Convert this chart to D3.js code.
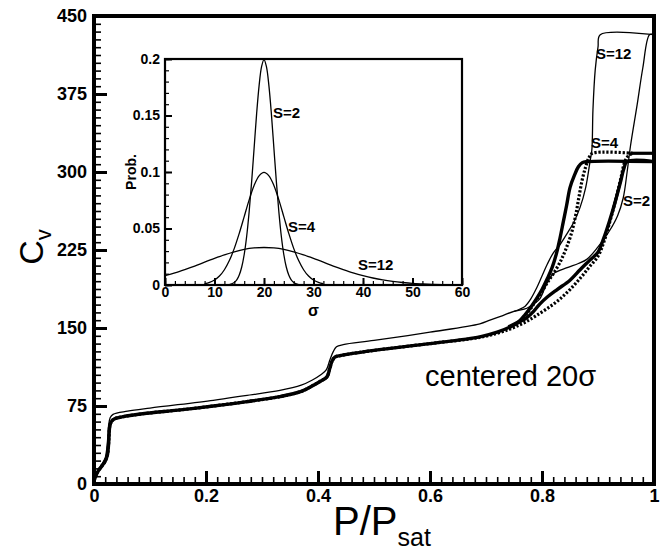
<!DOCTYPE html>
<html><head><meta charset="utf-8">
<script src="https://cdn.jsdelivr.net/npm/d3@7"></script>
<style>body{margin:0;background:#fff}svg{display:block}text{font-family:"Liberation Sans",Arial,Helvetica,sans-serif}</style>
</head><body>
<svg id="c" width="661" height="550"></svg>
<script>
// ---------- main chart ticks ----------
const xTicks = [0, 0.2, 0.4, 0.6, 0.8, 1];
const xTickLabels = ["0", "0.2", "0.4", "0.6", "0.8", "1"];
const yTicks = [0, 75, 150, 225, 300, 375, 450];

// ---------- main chart series: [P/Psat, Cv] ----------
const s2Adsorption = [[0,3],[0.007,12],[0.015,18],[0.02,22],[0.024,28],[0.026,38],[0.027,48],[0.028,55],[0.031,60],[0.036,62.5],[0.05,64.5],[0.094,68],[0.15,71],[0.213,75],[0.27,79],[0.332,84],[0.37,89],[0.392,95],[0.405,99],[0.416,103],[0.421,111],[0.425,118],[0.43,122],[0.44,123.5],[0.5,128.5],[0.6,135],[0.689,141.5],[0.72,146],[0.743,151],[0.76,156],[0.773,160],[0.785,166],[0.796,173],[0.81,180],[0.827,187],[0.85,196],[0.868,206],[0.885,215],[0.9,223],[0.91,236],[0.92,252],[0.93,270],[0.94,290],[0.946,303],[0.952,310],[1,310]];
const s2Desorption = [[1,310],[0.88,310],[0.872,309],[0.865,305],[0.858,297],[0.85,285],[0.844,268],[0.838,252],[0.832,236],[0.826,222],[0.818,208],[0.81,198],[0.8,187],[0.79,178],[0.78,170],[0.77,163],[0.76,157],[0.74,151]];
const s4Adsorption = [[0,3],[0.007,12],[0.015,18],[0.02,22],[0.024,28],[0.026,38],[0.027,48],[0.028,55],[0.031,60],[0.036,62.5],[0.05,64.5],[0.094,68],[0.15,71],[0.213,75],[0.27,79],[0.332,84],[0.37,89],[0.392,95],[0.405,99],[0.416,103],[0.421,111],[0.425,118],[0.43,122],[0.44,123.5],[0.5,128.5],[0.6,135],[0.689,141],[0.72,145],[0.743,149],[0.76,153],[0.775,157],[0.79,162],[0.81,169],[0.83,177],[0.85,187],[0.87,199],[0.885,209],[0.9,219],[0.91,232],[0.92,250],[0.93,270],[0.94,292],[0.948,310],[0.955,316],[0.962,318]];
const s4Desorption = [[0.962,318],[0.89,318],[0.884,314],[0.878,305],[0.872,293],[0.866,276],[0.86,258],[0.852,240],[0.842,225],[0.832,213],[0.82,202],[0.81,194],[0.8,185],[0.79,177],[0.78,169],[0.77,162],[0.76,156],[0.74,150]];
const s4Plateau = [[0.958,318],[1,318]];
const s12Adsorption = [[0,3],[0.007,13],[0.015,20],[0.02,25],[0.023,35],[0.025,48],[0.026,56],[0.029,64],[0.034,67],[0.06,70],[0.1,73],[0.213,80.5],[0.27,85],[0.332,90],[0.37,95],[0.39,100],[0.405,105],[0.415,110],[0.421,119],[0.427,127],[0.433,132],[0.445,134],[0.5,138],[0.6,146],[0.689,154],[0.707,157.5],[0.73,162],[0.75,166],[0.773,169],[0.785,173],[0.796,178],[0.808,192],[0.82,202],[0.845,208],[0.865,212],[0.88,216],[0.9,228],[0.92,243],[0.935,258],[0.945,275],[0.952,300],[0.958,325],[0.97,365],[0.98,400],[0.992,432],[1,432]];
const s12Desorption = [[1,432],[0.904,432],[0.9,420],[0.895,398],[0.891,360],[0.889,321],[0.886,311],[0.878,285],[0.868,266],[0.857,252],[0.845,241],[0.832,230],[0.82,222],[0.81,212],[0.8,200],[0.79,188],[0.78,178],[0.77,171],[0.76,168],[0.75,166]];

// ---------- inset: pore size distributions [sigma, probability] ----------
const insetXTicks = [0, 10, 20, 30, 40, 50, 60];
const insetYTicks = [0, 0.05, 0.1, 0.15, 0.2];
const insetYTickLabels = ["0", "0.05", "0.1", "0.15", "0.2"];
const probS2 = [[13,0.0004],[14,0.0022],[14.5,0.0045],[15,0.0088],[15.5,0.0159],[16,0.027],[16.5,0.0431],[17,0.0648],[17.5,0.0913],[18,0.121],[18.5,0.151],[19,0.176],[19.5,0.193],[20,0.1995],[20.5,0.193],[21,0.176],[21.5,0.151],[22,0.121],[22.5,0.0913],[23,0.0648],[23.5,0.0431],[24,0.027],[24.5,0.0159],[25,0.0088],[25.5,0.0045],[26,0.0022],[27,0.0004]];
const probS4 = [[8,0.0011],[9,0.0023],[10,0.0044],[11,0.0079],[12,0.0135],[13,0.0216],[14,0.0324],[15,0.0457],[16,0.0605],[17,0.0753],[18,0.088],[19,0.0966],[20,0.0997],[21,0.0966],[22,0.088],[23,0.0753],[24,0.0605],[25,0.0457],[26,0.0324],[27,0.0216],[28,0.0135],[29,0.0079],[30,0.0044],[31,0.0023],[32,0.0011]];
const probS12 = [[0,0.0083],[2,0.0108],[4,0.0137],[6,0.0168],[8,0.0202],[10,0.0235],[12,0.0266],[14,0.0293],[16,0.0315],[18,0.0328],[20,0.0332],[22,0.0328],[24,0.0315],[26,0.0293],[28,0.0266],[30,0.0235],[32,0.0202],[34,0.0168],[36,0.0137],[38,0.0108],[40,0.0083],[42,0.0062],[44,0.0045],[46,0.0032],[48,0.0022],[50,0.0014],[52,0.00095],[54,0.0006],[56,0.00037],[58,0.00022],[60,0.00013]];

const svg = d3.select("#c");
const FF = '"Liberation Sans",Arial,Helvetica,sans-serif';

// ---------- main scales ----------
const x = d3.scaleLinear().domain([0, 1]).range([94, 654]);
const y = d3.scaleLinear().domain([0, 450]).range([484, 16]);

function styleAxis(g, w, fs){
  g.select(".domain").remove();
  g.selectAll(".tick line").attr("stroke", "#000").attr("stroke-width", w);
  g.selectAll(".tick text").attr("fill", "#000").attr("font-size", fs).attr("font-weight", "bold").attr("font-family", FF);
}

// minor ticks
svg.append("g").attr("transform", `translate(${x(0)},0)`)
  .call(d3.axisLeft(y).tickValues(d3.range(0, 451, 7.5)).tickSize(-7).tickFormat(""))
  .call(g => styleAxis(g, 1.6, 0));
svg.append("g").attr("transform", `translate(0,${y(0)})`)
  .call(d3.axisBottom(x).tickValues(d3.range(0, 1.001, 0.02)).tickSize(-7).tickFormat(""))
  .call(g => styleAxis(g, 1.6, 0));
// major ticks
svg.append("g").attr("transform", `translate(${x(0)},0)`)
  .call(d3.axisLeft(y).tickValues(yTicks).tickSize(-13).tickPadding(7).tickFormat(d => d))
  .call(g => styleAxis(g, 3, 18));
svg.append("g").attr("transform", `translate(0,${y(0)})`)
  .call(d3.axisBottom(x).tickValues(xTicks).tickSize(-13).tickPadding(5).tickFormat((d, i) => xTickLabels[i]))
  .call(g => styleAxis(g, 3, 18));

// curves
const line = d3.line().x(d => x(d[0])).y(d => y(d[1])).curve(d3.curveCatmullRom.alpha(0.5));
svg.append("defs").append("clipPath").attr("id", "mclip").append("rect")
  .attr("x", x(0)).attr("y", y(450)).attr("width", x(1) - x(0)).attr("height", y(0) - y(450));
const cg = svg.append("g").attr("clip-path", "url(#mclip)");
const series = [
  {d: s12Adsorption, w: 1.3, dash: null},
  {d: s12Desorption, w: 1.3, dash: null},
  {d: s2Adsorption, w: 3.4, dash: null},
  {d: s2Desorption, w: 3.4, dash: null},
  {d: s4Adsorption, w: 3.2, dash: "2.2,1.8"},
  {d: s4Desorption, w: 3.2, dash: "2.2,1.8"},
  {d: s4Plateau, w: 3.2, dash: null}
];
series.forEach(s => {
  cg.append("path").attr("d", line(s.d)).attr("fill", "none").attr("stroke", "#000")
    .attr("stroke-width", s.w).attr("stroke-dasharray", s.dash).attr("stroke-linejoin", "round");
});

// frame
svg.append("rect").attr("x", x(0)).attr("y", y(450)).attr("width", x(1) - x(0)).attr("height", y(0) - y(450))
  .attr("fill", "none").attr("stroke", "#000").attr("stroke-width", 4);

// curve labels
const lab = [["S=12", 596, 59], ["S=4", 591, 148], ["S=2", 623, 206]];
lab.forEach(l => svg.append("text").attr("x", l[1]).attr("y", l[2]).attr("font-size", 15).attr("font-weight", "bold").text(l[0]));

// annotation
svg.append("text").attr("x", 425).attr("y", 386).attr("font-size", 29).text("centered 20σ");

// axis titles
const yt = svg.append("text").attr("transform", "translate(43,247) rotate(-90)").attr("text-anchor", "middle").attr("font-size", 34);
yt.append("tspan").text("C");
yt.append("tspan").attr("font-size", 22).attr("dy", 8).text("v");
const xt = svg.append("text").attr("x", 333).attr("y", 535).attr("font-size", 40);
xt.append("tspan").text("P/P");
xt.append("tspan").attr("font-size", 25).attr("dy", 11).text("sat");

// ---------- inset ----------
const ix = d3.scaleLinear().domain([0, 60]).range([165, 462]);
const iy = d3.scaleLinear().domain([0, 0.2]).range([285, 59]);
svg.append("rect").attr("x", ix(0)).attr("y", iy(0.2)).attr("width", ix(60) - ix(0)).attr("height", iy(0) - iy(0.2)).attr("fill", "#fff");
svg.append("g").attr("transform", `translate(${ix(0)},0)`)
  .call(d3.axisLeft(iy).tickValues(d3.range(0, 0.2001, 0.01)).tickSize(-4).tickFormat(""))
  .call(g => styleAxis(g, 1.2, 0));
svg.append("g").attr("transform", `translate(0,${iy(0)})`)
  .call(d3.axisBottom(ix).tickValues(d3.range(0, 60.1, 2)).tickSize(-4).tickFormat(""))
  .call(g => styleAxis(g, 1.2, 0));
svg.append("g").attr("transform", `translate(${ix(0)},0)`)
  .call(d3.axisLeft(iy).tickValues(insetYTicks).tickSize(-7).tickPadding(5).tickFormat((d, i) => insetYTickLabels[i]))
  .call(g => styleAxis(g, 2, 14));
svg.append("g").attr("transform", `translate(0,${iy(0)})`)
  .call(d3.axisBottom(ix).tickValues(insetXTicks).tickSize(-7).tickPadding(2).tickFormat(d => d))
  .call(g => styleAxis(g, 2, 14));
const iline = d3.line().x(d => ix(d[0])).y(d => iy(d[1])).curve(d3.curveCatmullRom.alpha(0.5));
[probS2, probS4, probS12].forEach(p => {
  svg.append("path").attr("d", iline(p)).attr("fill", "none").attr("stroke", "#000").attr("stroke-width", 1.3);
});
svg.append("rect").attr("x", ix(0)).attr("y", iy(0.2)).attr("width", ix(60) - ix(0)).attr("height", iy(0) - iy(0.2))
  .attr("fill", "none").attr("stroke", "#000").attr("stroke-width", 2.2);
[["S=2", 273, 118], ["S=4", 288, 232], ["S=12", 358, 270]].forEach(l =>
  svg.append("text").attr("x", l[1]).attr("y", l[2]).attr("font-size", 15).attr("font-weight", "bold").text(l[0]));
svg.append("text").attr("transform", "translate(136,172) rotate(-90)").attr("text-anchor", "middle")
  .attr("font-size", 14).attr("font-weight", "bold").text("Prob.");
svg.append("text").attr("x", ix(30)).attr("y", 316).attr("text-anchor", "middle").attr("font-size", 16).attr("font-weight", "bold").text("σ");
</script>
</body></html>
